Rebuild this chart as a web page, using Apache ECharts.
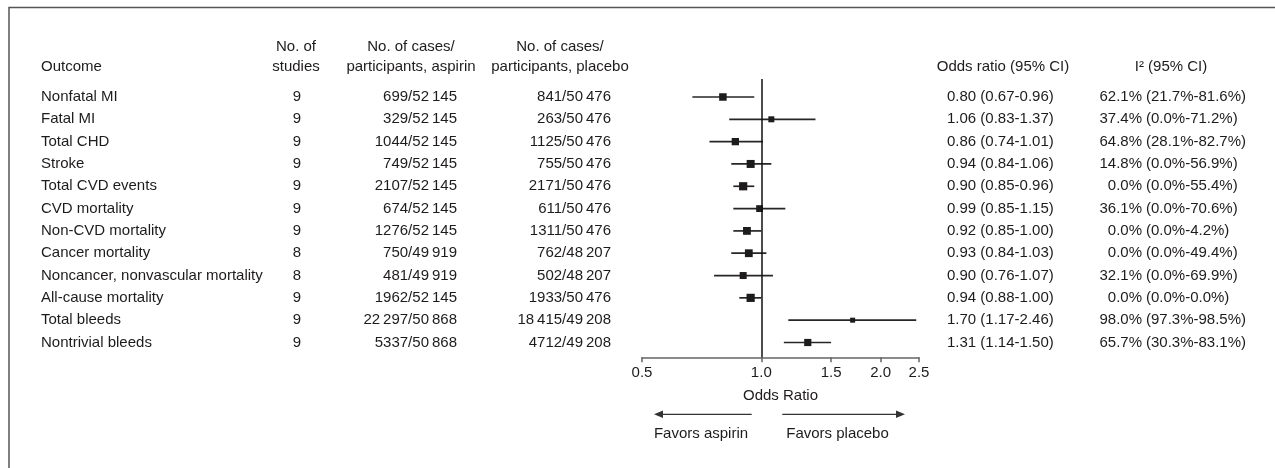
<!DOCTYPE html>
<html><head><meta charset="utf-8">
<script src="https://cdn.jsdelivr.net/npm/echarts@6/dist/echarts.min.js"></script>
<style>html,body{margin:0;padding:0;background:#fff}#c{width:1275px;height:468px}</style>
</head><body><div id="c"></div>
<script>
const outcomes = ['Nonfatal MI','Fatal MI','Total CHD','Stroke','Total CVD events','CVD mortality','Non-CVD mortality','Cancer mortality','Noncancer, nonvascular mortality','All-cause mortality','Total bleeds','Nontrivial bleeds'];
const studies = [9,9,9,9,9,9,9,8,8,9,9,9];
const casesAspirin = [699,329,1044,749,2107,674,1276,750,481,1962,22297,5337];
const partsAspirin = [52145,52145,52145,52145,52145,52145,52145,49919,49919,52145,50868,50868];
const casesPlacebo = [841,263,1125,755,2171,611,1311,762,502,1933,18415,4712];
const partsPlacebo = [50476,50476,50476,50476,50476,50476,50476,48207,48207,50476,49208,49208];
const oddsRatio = [0.80,1.06,0.86,0.94,0.90,0.99,0.92,0.93,0.90,0.94,1.70,1.31];
const ciLow = [0.67,0.83,0.74,0.84,0.85,0.85,0.85,0.84,0.76,0.88,1.17,1.14];
const ciHigh = [0.96,1.37,1.01,1.06,0.96,1.15,1.00,1.03,1.07,1.00,2.46,1.50];
const i2 = [62.1,37.4,64.8,14.8,0.0,36.1,0.0,0.0,32.1,0.0,98.0,65.7];
const i2Low = [21.7,0.0,28.1,0.0,0.0,0.0,0.0,0.0,0.0,0.0,97.3,30.3];
const i2High = [81.6,71.2,82.7,56.9,55.4,70.6,4.2,49.4,69.9,0.0,98.5,83.1];
const xTicks = [0.5,1.0,1.5,2.0,2.5];

// style / layout
const boxSize = [7.5,6,7.3,8,8.2,6.8,7.8,7.8,7,8.2,5,7.2];
const FONT = '15px "Liberation Sans", Arial, sans-serif';
const TXT = '#1e1b1c';
const COL = {outcome:41, studies:297, aspirin:457, placebo:611, or:947, i2pct:1142, i2ci:1146};

function fmt(n){
  const s = String(n);
  return n >= 10000 ? s.slice(0, s.length-3) + '\u2009' + s.slice(-3) : s;
}

const chart = echarts.init(document.getElementById('c'), null, {renderer:'canvas'});

function txt(text, x, y, align){
  return {type:'text', style:{text, x, y, align, verticalAlign:'middle', font:FONT, fill:TXT}};
}

const header = [
  txt('Outcome', COL.outcome, 67, 'left'),
  txt('No. of', 296, 47, 'center'), txt('studies', 296, 67, 'center'),
  txt('No. of cases/', 411, 47, 'center'), txt('participants, aspirin', 411, 67, 'center'),
  txt('No. of cases/', 560, 47, 'center'), txt('participants, placebo', 560, 67, 'center'),
  txt('Odds ratio (95% CI)', 1003, 67, 'center'),
  txt('I\u00B2 (95% CI)', 1171, 67, 'center'),
  txt('Favors aspirin', 701, 434, 'center'),
  txt('Favors placebo', 837.5, 434, 'center'),
  {type:'polyline', shape:{points:[[1275,7.5],[9,7.5],[9,468]]}, style:{stroke:'#555', lineWidth:1.5, fill:null}},
  {type:'line', shape:{x1:751.7,y1:414.3,x2:662,y2:414.3}, style:{stroke:'#333', lineWidth:1.2}},
  {type:'polygon', shape:{points:[[654,414.3],[663,410.6],[663,418]]}, style:{fill:'#333'}},
  {type:'line', shape:{x1:782.3,y1:414.3,x2:897,y2:414.3}, style:{stroke:'#333', lineWidth:1.2}},
  {type:'polygon', shape:{points:[[905,414.3],[896,410.6],[896,418]]}, style:{fill:'#333'}}
];

chart.setOption({
  animation:false,
  backgroundColor:'#fff',
  grid:{left:642, right:356, top:79, bottom:110.7},
  xAxis:{
    type:'log', logBase:10, min:0.5, max:2.5, position:'bottom',
    axisLine:{show:true, onZero:false, lineStyle:{color:'#666', width:1.5}},
    axisTick:{show:true, length:5, inside:false, customValues:xTicks, lineStyle:{color:'#666', width:1.5}},
    axisLabel:{customValues:xTicks, formatter:v=>Number(v).toFixed(1), color:TXT, fontSize:15, fontFamily:'"Liberation Sans", Arial, sans-serif', margin:8},
    splitLine:{show:false}, minorTick:{show:false},
    name:'Odds Ratio', nameLocation:'middle', nameGap:31,
    nameTextStyle:{color:TXT, fontSize:15, fontFamily:'"Liberation Sans", Arial, sans-serif'}
  },
  yAxis:{type:'value', inverse:true, min:-0.806, max:11.663, show:false},
  graphic:header,
  series:[
    {
      type:'custom', name:'forest',
      data: outcomes.map((_, i) => [i, oddsRatio[i], ciLow[i], ciHigh[i]]),
      encode:{x:[1,2,3], y:0},
      renderItem(params, api){
        const i = api.value(0);
        const y = api.coord([1, i])[1];
        const x0 = api.coord([api.value(2), i])[0];
        const x1 = api.coord([api.value(3), i])[0];
        const xc = api.coord([api.value(1), i])[0];
        const s = boxSize[i];
        return {type:'group', children:[
          {type:'line', shape:{x1:x0, y1:y, x2:x1, y2:y}, style:{stroke:'#262626', lineWidth:1.7}},
          {type:'rect', shape:{x:xc-s/2, y:y-s/2, width:s, height:s}, style:{fill:'#1e1b1c'}}
        ]};
      },
      markLine:{
        silent:true, symbol:['none','none'],
        label:{show:false},
        lineStyle:{color:'#111', width:1.5, type:'solid'},
        data:[{xAxis:1}]
      },
      z:3
    },
    {
      type:'custom', name:'table',
      data: outcomes.map((_, i) => [1, i]),
      encode:{x:0, y:1},
      clip:false,
      renderItem(params, api){
        const i = api.value(1);
        const y = api.coord([1, i])[1];
        return {type:'group', children:[
          txt(outcomes[i], COL.outcome, y, 'left'),
          txt(String(studies[i]), COL.studies, y, 'center'),
          txt(fmt(casesAspirin[i]) + '/' + fmt(partsAspirin[i]), COL.aspirin, y, 'right'),
          txt(fmt(casesPlacebo[i]) + '/' + fmt(partsPlacebo[i]), COL.placebo, y, 'right'),
          txt(oddsRatio[i].toFixed(2) + ' (' + ciLow[i].toFixed(2) + '-' + ciHigh[i].toFixed(2) + ')', COL.or, y, 'left'),
          txt(i2[i].toFixed(1) + '%', COL.i2pct, y, 'right'),
          txt('(' + i2Low[i].toFixed(1) + '%-' + i2High[i].toFixed(1) + '%)', COL.i2ci, y, 'left')
        ]};
      }
    }
  ]
});
</script></body></html>
